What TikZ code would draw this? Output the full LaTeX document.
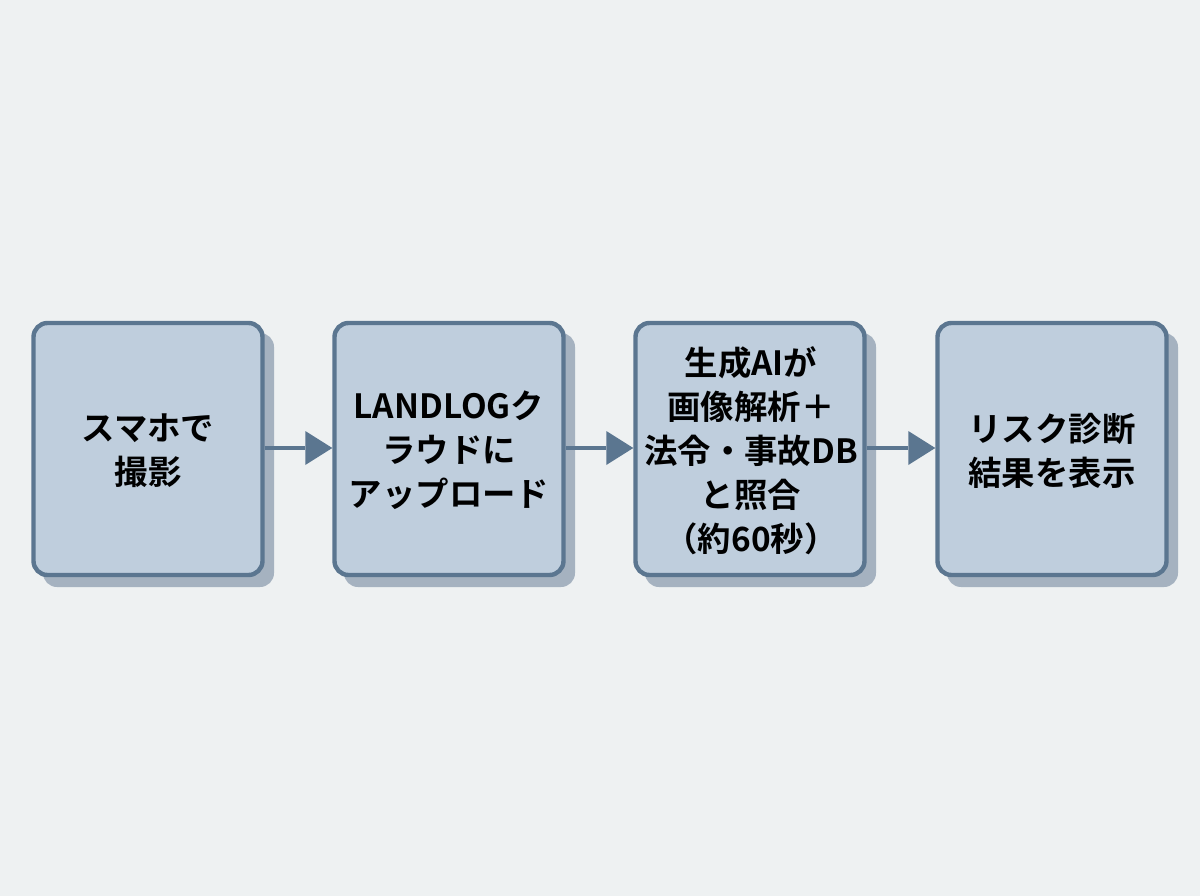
\documentclass[tikz,border=0pt]{standalone}
\usepackage{fontspec}
\setmainfont{Noto Sans CJK JP}[BoldFont={* Bold}]
\definecolor{bgc}{HTML}{EEF1F2}
\definecolor{boxc}{HTML}{BFCEDD}
\definecolor{edgec}{HTML}{5B7690}
\definecolor{shadc}{HTML}{A5B2C0}
\tikzset{
  x=1pt,y=-1pt,
  stepbox/.style={draw=edgec,line width=4.4pt,fill=boxc,rounded corners=14pt,minimum width=229pt,minimum height=252pt,inner sep=0pt},
  steptext/.style={inner sep=0pt,align=center,font=\fontsize{33.4}{44}\selectfont\bfseries,text=black},
  shadowbox/.style={fill=shadc,rounded corners=14pt,minimum width=231pt,minimum height=254pt,inner sep=0pt},
  conn/.style={draw=edgec,line width=4.6pt},
  tip/.style={fill=edgec,draw=none}
}
\begin{document}
\begin{tikzpicture}
\useasboundingbox (0,0) rectangle (1200,896);
\fill[bgc] (0,0) rectangle (1200,896);
\foreach \nm/\cx in {s1/148,s2/449,s3/750,s4/1052}{
  \node[shadowbox] (\nm) at (\cx+10.5,460) {};
}
\node[stepbox] (a) at (148,449) {};
\node[stepbox] (b) at (449,449) {};
\node[stepbox] (c) at (750,449) {};
\node[stepbox] (d) at (1052,449) {};
\node[steptext] (ta) at (148,450.7) {スマホで\\撮影};
\node[steptext] (tb) at (449,450.7) {LANDLOGク\\ラウドに\\アップロード};
\node[steptext] (tc) at (751,450.7) {生成AIが\\画像解析＋\\法令・事故DB\\と照合\\（約60秒）};
\node[steptext] (td) at (1052,450.7) {リスク診断\\結果を表示};
\foreach \u/\v in {a/b,b/c,c/d}{
  \path ([yshift=1pt]\v.west) coordinate (e\v);
  \path (e\v) ++(-27,0) coordinate (n\v);
  \draw[conn] ([yshift=1pt]\u.east) -- (n\v);
  \fill[tip] (e\v) -- ([yshift=17pt]n\v) -- ([yshift=-17pt]n\v) -- cycle;
}
\end{tikzpicture}
\end{document}
